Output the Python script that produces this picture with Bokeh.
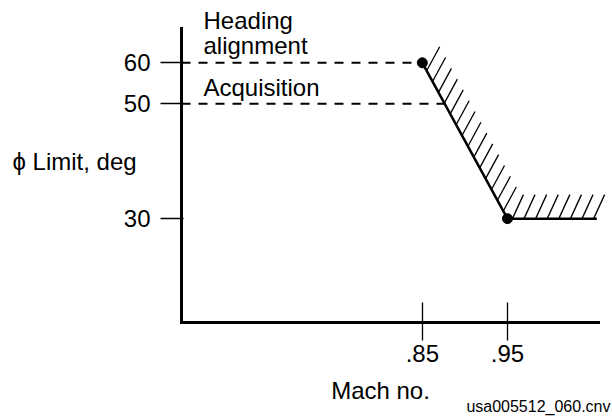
import numpy as np
from bokeh.plotting import figure
from bokeh.models import Range1d, FixedTicker, CustomJSTickFormatter, Label
from bokeh.embed import file_html
from bokeh.resources import INLINE

# ---- data ----
mach_ticks = [0.85, 0.95]
phi_ticks = [30, 50, 60]
limit_mach = [0.85, 0.95, 1.055]
limit_phi = [60, 30, 30]
heading_phi = 60
acquisition_phi = 50
mach_bounds = (0.567, 1.057)   # extent of the Mach axis
phi_bounds = (18.9, 69.9)      # extent of the phi axis

FONT = "Liberation Sans"

# ---- layout (canvas px) ----
W, H = 612, 420
AX_L, AX_R, AX_T, AX_B = 181, 598, 28, 322
ppx = (AX_R - AX_L) / (mach_bounds[1] - mach_bounds[0])
ppl = (AX_B - AX_T) / np.log(phi_bounds[1] / phi_bounds[0])
x_start = mach_bounds[0] - AX_L / ppx
x_end = mach_bounds[1] + (W - AX_R) / ppx
y_top = phi_bounds[1] * np.exp(AX_T / ppl)
y_bottom = phi_bounds[0] * np.exp(-(H - AX_B) / ppl)


def to_data(sx, sy):
    return (float(x_start + sx / ppx), float(y_bottom * np.exp((H - sy) / ppl)))


def to_px(x, y):
    return ((x - x_start) * ppx, H - np.log(y / y_bottom) * ppl)


p = figure(width=W, height=H, x_range=Range1d(x_start, x_end),
           y_range=Range1d(float(y_bottom), float(y_top)),
           y_axis_type="log", output_backend="svg", toolbar_location=None,
           min_border_left=0, min_border_right=0, min_border_top=0, min_border_bottom=0)
p.outline_line_color = None
p.xgrid.visible = False
p.ygrid.visible = False
p.background_fill_color = "white"
p.border_fill_color = "white"

for ax in (p.xaxis[0], p.yaxis[0]):
    ax.axis_line_width = 3
    ax.axis_line_color = "black"
    ax.axis_line_cap = "square"
    ax.major_tick_line_color = "black"
    ax.major_tick_line_width = 1.3
    ax.minor_tick_line_color = None
    ax.major_label_text_font = FONT
    ax.major_label_text_font_size = "24px"
    ax.major_label_text_color = "black"

yax = p.yaxis[0]
yax.fixed_location = mach_bounds[0]
yax.bounds = phi_bounds
yax.ticker = FixedTicker(ticks=phi_ticks, minor_ticks=[])
yax.formatter = CustomJSTickFormatter(code="return tick.toFixed(0)")
yax.major_tick_out = 21
yax.major_tick_in = 2
yax.major_label_standoff = 10

xax = p.xaxis[0]
xax.fixed_location = phi_bounds[0]
xax.bounds = mach_bounds
xax.ticker = FixedTicker(ticks=mach_ticks, minor_ticks=[])
xax.formatter = CustomJSTickFormatter(code="return tick.toFixed(2).replace(/^0/, '')")
xax.major_tick_out = 18
xax.major_tick_in = 20
xax.major_label_standoff = 4

# dashed reference lines
t = np.log(limit_phi[0] / acquisition_phi) / np.log(limit_phi[0] / limit_phi[1])
acq_mach = float(limit_mach[0] + t * (limit_mach[1] - limit_mach[0]))
p.line([mach_bounds[0], limit_mach[0]], [heading_phi, heading_phi],
       line_color="black", line_width=2, line_dash="9 8")
p.line([mach_bounds[0], acq_mach], [acquisition_phi, acquisition_phi],
       line_color="black", line_width=2, line_dash="9 8")

# hatching on the limit boundary
hx0, hy0, hx1, hy1 = [], [], [], []
specs = [(9.0, 12.3, 13.0, 24.0), (5.0, 11.6, 11.0, 24.0)]
for i in range(len(limit_mach) - 1):
    a = np.array(to_px(limit_mach[i], limit_phi[i]))
    b = np.array(to_px(limit_mach[i + 1], limit_phi[i + 1]))
    L = np.hypot(*(b - a))
    u = (b - a) / L
    start, step, dx, dy = specs[i]
    s = start
    while s < L - 2:
        base = a + u * s
        x0, y0 = to_data(base[0], base[1])
        x1, y1 = to_data(base[0] + dx, base[1] - dy)
        hx0.append(x0); hy0.append(y0); hx1.append(x1); hy1.append(y1)
        s += step
p.segment(hx0, hy0, hx1, hy1, line_color="black", line_width=1.3)

# boundary
p.line(limit_mach, limit_phi, line_color="black", line_width=2.5)
p.scatter(limit_mach[:2], limit_phi[:2], size=10, color="black")

LABEL_SHIFT = 8  # renderer draws alphabetic baseline ~8px lower than requested


def add_label(text, sx, sy, align="left", size="24px"):
    x, y = to_data(sx, sy - LABEL_SHIFT)
    p.add_layout(Label(x=x, y=y, text=text, text_font=FONT, text_font_size=size,
                       text_color="black", text_align=align, text_baseline="alphabetic"))


add_label("Heading", 203, 28.3)
add_label("alignment", 203, 53)
add_label("Acquisition", 203, 95)
add_label("\u03d5 Limit, deg", 12, 168.5)
add_label("Mach no.", 380, 398, align="center")
add_label("usa005512_060.cnv", 610, 414, align="right", size="16px")

open("out.html", "w").write(file_html(p, INLINE))
